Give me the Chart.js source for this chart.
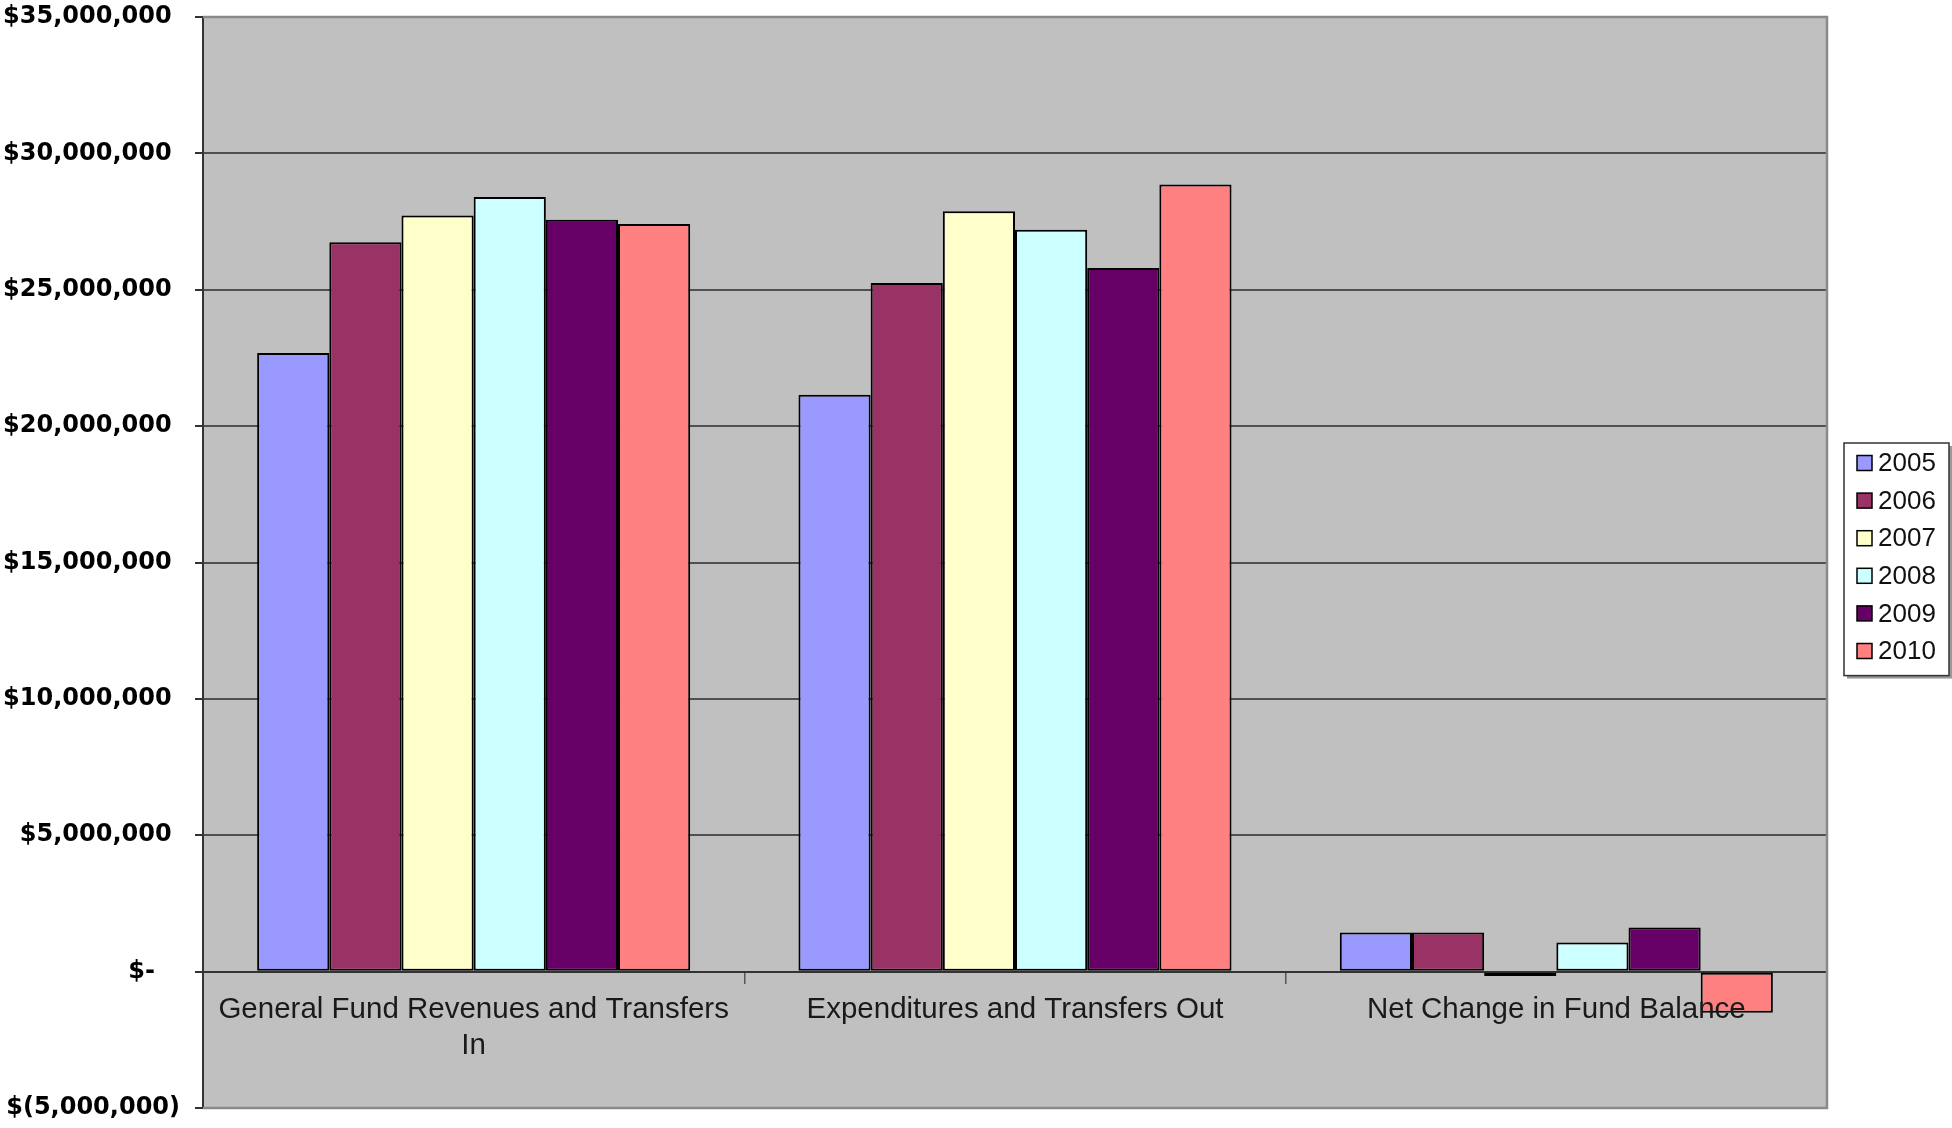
<!DOCTYPE html>
<html>
<head>
<meta charset="utf-8">
<title>General Fund 2005-2010</title>
<script src="https://cdn.jsdelivr.net/npm/chart.js@4.4.1/dist/chart.umd.min.js"></script>
<style>
  html, body { margin: 0; padding: 0; background: #fff; }
  canvas { display: block; }
</style>
</head>
<body>
<canvas id="fundChart" width="1952" height="1128"></canvas>
<script>
// General fund summary by fiscal year

const categories = [
    ["General Fund Revenues and Transfers", "In"],
    "Expenditures and Transfers Out",
    "Net Change in Fund Balance"
];
const years = ["2005", "2006", "2007", "2008", "2009", "2010"];
const yearColors = ["#9999FF", "#993366", "#FFFFCC", "#CCFFFF", "#660066", "#FF8080"];

// revenues in, expenditures out, net change
const fy2005 = [22680000, 21150000, 1430000];
const fy2006 = [26740000, 25250000, 1430000];
const fy2007 = [27720000, 27880000, -160000];
const fy2008 = [28400000, 27200000, 1070000];
const fy2009 = [27570000, 25800000, 1620000];
const fy2010 = [27410000, 28860000, -1510000];
const amounts = [fy2005, fy2006, fy2007, fy2008, fy2009, fy2010];

const yMin = -5000000;
const yMax = 35000000;
const yStep = 5000000;

// accounting style: $-, $(x), trailing pad so digits line up
const money = (v) => {
    if (v === 0) return "$-   ";
    if (v < 0) return "$(" + Math.abs(v).toLocaleString("en-US") + ")";
    return "$" + v.toLocaleString("en-US") + " ";
};

const plotBackground = {
    id: "plotBackground",
    beforeDraw(chart) {
        const { ctx, chartArea: a } = chart;
        ctx.save();
        ctx.fillStyle = "#fff";
        ctx.fillRect(0, 0, chart.width, chart.height);
        ctx.fillStyle = "#c0c0c0";
        ctx.fillRect(a.left, a.top, a.right - a.left, a.bottom - a.top);
        ctx.restore();
    },
    beforeDatasetsDraw(chart) {
        // grey frame on top, right and bottom of the plot
        const { ctx, chartArea: a } = chart;
        ctx.save();
        ctx.strokeStyle = "#8a8a8a";
        ctx.lineWidth = 2.5;
        ctx.beginPath();
        ctx.moveTo(a.left, a.top);
        ctx.lineTo(a.right, a.top);
        ctx.lineTo(a.right, a.bottom);
        ctx.lineTo(a.left, a.bottom);
        ctx.stroke();
        ctx.restore();
    }
};

// boxed legend to the right of the plot
const boxLegend = {
    id: "boxLegend",
    afterDraw(chart) {
        const { ctx, chartArea: a } = chart;
        const items = chart.data.datasets;
        const x = a.right + 17, w = 105, rowH = 37.6;
        const h = rowH * items.length + 7;
        const y = 443;
        ctx.save();
        ctx.fillStyle = "#9a9a9a";
        ctx.fillRect(x + 3, y + 3, w, h);
        ctx.fillStyle = "#fff";
        ctx.fillRect(x, y, w, h);
        ctx.strokeStyle = "#333";
        ctx.lineWidth = 1.5;
        ctx.strokeRect(x, y, w, h);
        ctx.font = "26px 'Liberation Sans', Arial, sans-serif";
        ctx.textBaseline = "middle";
        items.forEach((ds, i) => {
            const cy = y + 20 + i * rowH;
            ctx.fillStyle = ds.backgroundColor;
            ctx.fillRect(x + 13, cy - 7.5, 15, 15);
            ctx.strokeStyle = "#000";
            ctx.lineWidth = 1.5;
            ctx.strokeRect(x + 13, cy - 7.5, 15, 15);
            ctx.fillStyle = "#111";
            ctx.fillText(ds.label, x + 34, cy + 1);
        });
        ctx.restore();
    }
};

const datasets = years.map((year, i) => ({
    label: year,
    data: amounts[i],
    backgroundColor: yearColors[i],
    borderColor: "#000",
    borderWidth: 2,
    borderSkipped: false,
    barPercentage: 1,
    categoryPercentage: 0.8
}));

const config = {
    type: "bar",
    data: { labels: categories, datasets },
    options: {
        responsive: false,
        animation: false,
        layout: { padding: { top: 17, right: 125, bottom: 20, left: 0 } },
        plugins: {
            legend: { display: false },
            tooltip: { enabled: false }
        },
        scales: {
            x: {
                position: { y: 0 },
                grid: {
                    drawOnChartArea: false,
                    drawTicks: true,
                    tickLength: 11,
                    color: "#555",
                    lineWidth: 1.5
                },
                border: { color: "#333", width: 2 },
                ticks: {
                    z: 1,
                    color: "#1a1a1a",
                    font: { family: "'Liberation Sans', Arial, sans-serif", size: 29.5 },
                    padding: 10,
                    maxRotation: 0,
                    autoSkip: false
                }
            },
            y: {
                min: yMin,
                max: yMax,
                afterFit: (scale) => {
                    scale.width = 203;
                    scale.paddingTop = 0;
                    scale.paddingBottom = 0;
                },
                grid: {
                    color: (c) => (c.tick && (c.tick.value === yMax || c.tick.value === yMin)) ? "rgba(0,0,0,0)" : "#505050",
                    lineWidth: 2,
                    tickLength: 8,
                    tickColor: "#333"
                },
                border: { color: "#333", width: 2 },
                ticks: {
                    stepSize: yStep,
                    callback: money,
                    color: "#000",
                    font: { family: "'DejaVu Sans', sans-serif", size: 24, weight: "bold" },
                    padding: 15
                }
            }
        }
    },
    plugins: [plotBackground, boxLegend]
};

new Chart(document.getElementById("fundChart"), config);
</script>
</body>
</html>
